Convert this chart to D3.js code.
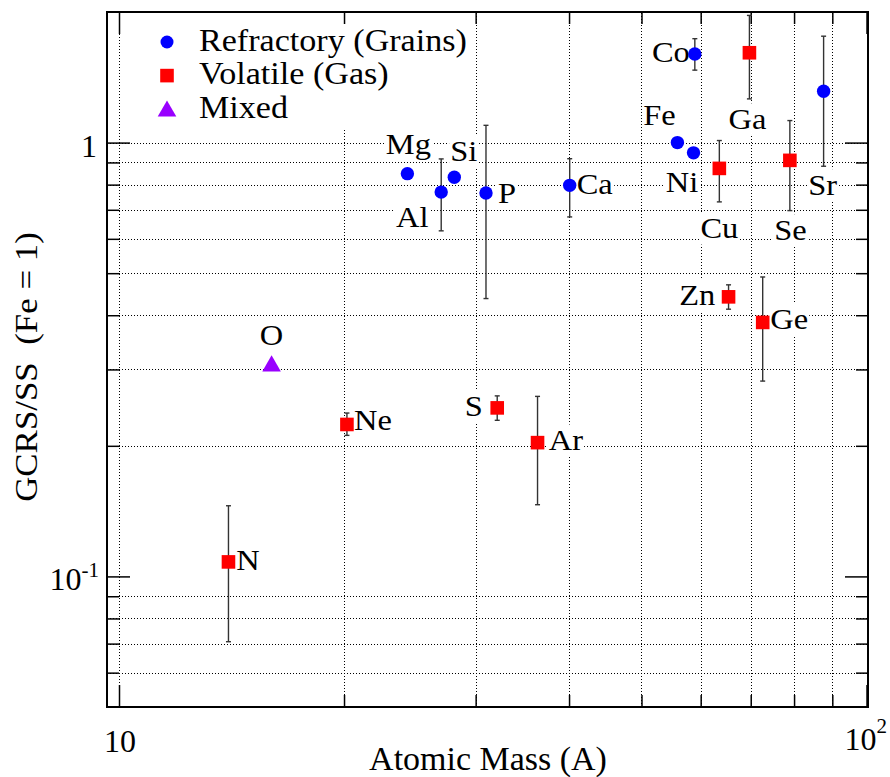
<!DOCTYPE html>
<html>
<head>
<meta charset="utf-8">
<script src="https://cdn.jsdelivr.net/npm/d3@7"></script>
<style>
body { margin: 0; background: #fff; }
</style>
</head>
<body>
<div id="chart"></div>
<script>
// Data
// =================================
var refractoryNames = ["Mg", "Al", "Si", "P", "Ca", "Fe", "Ni", "Co", "Sr"];
var refractoryMass = [24.31, 26.98, 28.09, 30.97, 40.08, 55.85, 58.69, 58.93, 87.62];
var refractoryRatio = [0.848, 0.769, 0.832, 0.765, 0.797, 1.0, 0.947, 1.60, 1.313];
var refractoryLow = [null, 0.626, null, 0.437, 0.674, null, null, 1.469, 0.882];
var refractoryHigh = [null, 0.917, null, 1.096, 0.918, null, null, 1.736, 1.759];

var volatileNames = ["N", "Ne", "S", "Ar", "Cu", "Zn", "Ga", "Ge", "Se"];
var volatileMass = [14.01, 20.18, 32.06, 36.3, 63.55, 65.38, 69.72, 72.63, 78.97];
var volatileRatio = [0.108, 0.224, 0.2446, 0.2034, 0.872, 0.441, 1.611, 0.385, 0.910];
var volatileLow = [0.0707, 0.2114, 0.229, 0.1463, 0.730, 0.413, 1.261, 0.282, 0.697];
var volatileHigh = [0.1455, 0.238, 0.2607, 0.260, 1.011, 0.470, 1.964, 0.490, 1.124];

var mixedNames = ["O"];
var mixedMass = [16.0];
var mixedRatio = [0.307];

var legendLabels = ["Refractory (Grains)", "Volatile (Gas)", "Mixed"];
var xMajorTicks = [10, 100];
var xMinorTicks = [20, 30, 40, 50, 60, 70, 80, 90];
var yMajorTicks = [0.1, 1];
var yMinorTicks = [0.06, 0.07, 0.08, 0.09, 0.2, 0.3, 0.4, 0.5, 0.6, 0.7, 0.8, 0.9];

var FONT = "'Liberation Serif'";

// Step 1: Set up our chart
//= ================================
var svgWidth = 890;
var svgHeight = 777;

var margin = {
    top: 12,
    right: 22,
    bottom: 70,
    left: 107
};

var width = svgWidth - margin.left - margin.right;
var height = svgHeight - margin.top - margin.bottom;

var svg = d3.select("#chart")
    .append("svg")
    .attr("width", svgWidth)
    .attr("height", svgHeight);

var chartGroup = svg.append("g")
    .attr("transform", `translate(${margin.left}, ${margin.top})`);

// Step 2: Scales (log / log)
// ==============================
var xLogScale = d3.scaleLog()
    .domain([9.637, 100.46])
    .range([0, width]);

var yLogScale = d3.scaleLog()
    .domain([0.05, 2])
    .range([height, 0]);

// Step 3: Dotted grid
// ==============================
function styleGrid(g) {
    g.select(".domain").remove();
    g.selectAll("line")
        .attr("stroke", "#000")
        .attr("stroke-width", 1)
        .attr("shape-rendering", "crispEdges")
        .attr("stroke-dasharray", "1,2");
}

chartGroup.append("g")
    .attr("transform", `translate(0, ${height})`)
    .call(d3.axisBottom(xLogScale).tickValues([10].concat(xMinorTicks)).tickSize(-height).tickFormat(""))
    .call(styleGrid);

chartGroup.append("g")
    .call(d3.axisLeft(yLogScale).tickValues(yMinorTicks.concat([1])).tickSize(-width).tickFormat(""))
    .call(styleGrid);

// Step 4: Ticks on all four sides
// ==============================
function styleTicks(g) {
    g.select(".domain").remove();
    g.selectAll("line").attr("stroke", "#000").attr("stroke-width", 1.5);
}

[[xMajorTicks, 22], [xMinorTicks, 12]].forEach(function (t) {
    chartGroup.append("g")
        .attr("transform", `translate(0, ${height})`)
        .call(d3.axisBottom(xLogScale).tickValues(t[0]).tickSize(-t[1]).tickFormat(""))
        .call(styleTicks);
    chartGroup.append("g")
        .call(d3.axisTop(xLogScale).tickValues(t[0]).tickSize(-t[1]).tickFormat(""))
        .call(styleTicks);
});

[[yMajorTicks, 23], [yMinorTicks, 12]].forEach(function (t) {
    chartGroup.append("g")
        .call(d3.axisLeft(yLogScale).tickValues(t[0]).tickSize(-t[1]).tickFormat(""))
        .call(styleTicks);
    chartGroup.append("g")
        .attr("transform", `translate(${width}, 0)`)
        .call(d3.axisRight(yLogScale).tickValues(t[0]).tickSize(-t[1]).tickFormat(""))
        .call(styleTicks);
});

// tick labels
chartGroup.append("text")
    .attr("x", -10)
    .attr("y", yLogScale(1) + 14)
    .attr("text-anchor", "end")
    .attr("font-size", 32)
    .style("font-family", FONT)
    .text("1");

var tenMinus = chartGroup.append("text")
    .attr("x", -8)
    .attr("y", yLogScale(0.1) + 14)
    .attr("text-anchor", "end")
    .attr("font-size", 32)
    .style("font-family", FONT)
    .text("10");
tenMinus.append("tspan").attr("dy", -13).attr("font-size", 21).text("-1");

chartGroup.append("text")
    .attr("x", xLogScale(10) + 1)
    .attr("y", height + 45)
    .attr("text-anchor", "middle")
    .attr("font-size", 32)
    .style("font-family", FONT)
    .text("10");

var tenTwo = chartGroup.append("text")
    .attr("x", xLogScale(100) - 22)
    .attr("y", height + 43)
    .attr("text-anchor", "start")
    .attr("font-size", 32)
    .style("font-family", FONT)
    .text("10");
tenTwo.append("tspan").attr("dy", -17).attr("font-size", 21).text("2");

// axis titles
svg.append("text")
    .attr("transform", `translate(488, 770) scale(1.03, 1)`)
    .attr("text-anchor", "middle")
    .attr("font-size", 33)
    .style("font-family", FONT)
    .text("Atomic Mass (A)");

svg.append("text")
    .attr("transform", `translate(37, 367) rotate(-90) scale(1.09, 1)`)
    .attr("text-anchor", "middle")
    .attr("font-size", 32)
    .style("font-family", FONT)
    .style("white-space", "pre")
    .text("GCRS/SS  (Fe = 1)");

// Step 5: Element labels (white boxes hide the grid behind them)
// ==============================
var labelOffset = {
    Mg: [1, -20], Al: [-29, 35], Si: [9.5, -16], P: [21, 10], Ca: [25, 8.5],
    Fe: [-18, -18], Ni: [-11.5, 39.5], Co: [-24, 8], Sr: [-1, 103.3],
    N: [19.5, 7.6], Ne: [26, 5.7], S: [-23.4, 8], Ar: [28.3, 7.3],
    Cu: [0, 69.6], Zn: [-31.3, 8], Ga: [-2, 76], Ge: [26.5, 6.3], Se: [0.5, 79.3],
    O: [0, -20]
};

var labelLayer = chartGroup.append("g");

function addLabel(name, mass, ratio) {
    var off = labelOffset[name];
    var g = labelLayer.append("g")
        .attr("transform", `translate(${xLogScale(mass) + off[0]}, ${yLogScale(ratio) + off[1]}) scale(1.12, 1)`);
    var t = g.append("text")
        .attr("text-anchor", "middle")
        .attr("font-size", 29)
        .style("font-family", FONT)
        .text(name);
    var bb = t.node().getBBox();
    g.insert("rect", "text")
        .attr("x", bb.x - 1)
        .attr("y", bb.y)
        .attr("width", bb.width + 2)
        .attr("height", bb.height)
        .attr("fill", "#fff");
}

refractoryNames.forEach((n, i) => addLabel(n, refractoryMass[i], refractoryRatio[i]));
volatileNames.forEach((n, i) => addLabel(n, volatileMass[i], volatileRatio[i]));
mixedNames.forEach((n, i) => addLabel(n, mixedMass[i], mixedRatio[i]));

// Step 6: Error bars
// ==============================
var errGroup = chartGroup.append("g")
    .attr("stroke", "#333")
    .attr("stroke-width", 1.4);

function addError(mass, low, high) {
    if (low === null) return;
    var cx = xLogScale(mass);
    errGroup.append("line")
        .attr("x1", cx).attr("x2", cx)
        .attr("y1", yLogScale(low)).attr("y2", yLogScale(high));
    [low, high].forEach(function (v) {
        errGroup.append("line")
            .attr("x1", cx - 2.5).attr("x2", cx + 2.5)
            .attr("y1", yLogScale(v)).attr("y2", yLogScale(v));
    });
}

refractoryMass.forEach((m, i) => addError(m, refractoryLow[i], refractoryHigh[i]));
volatileMass.forEach((m, i) => addError(m, volatileLow[i], volatileHigh[i]));

// Step 7: Markers
// ==============================
chartGroup.append("g").selectAll("circle")
    .data(refractoryMass)
    .enter()
    .append("circle")
    .attr("cx", d => xLogScale(d))
    .attr("cy", (d, i) => yLogScale(refractoryRatio[i]))
    .attr("r", 6.7)
    .attr("fill", "#0000ff");

var sq = 13.6;
chartGroup.append("g").selectAll("rect")
    .data(volatileMass)
    .enter()
    .append("rect")
    .attr("x", d => xLogScale(d) - sq / 2)
    .attr("y", (d, i) => yLogScale(volatileRatio[i]) - sq / 2)
    .attr("width", sq)
    .attr("height", sq)
    .attr("fill", "#ff0000");

var triangle = d3.symbol().type(d3.symbolTriangle).size(150);
chartGroup.append("g").selectAll("path")
    .data(mixedMass)
    .enter()
    .append("path")
    .attr("d", triangle)
    .attr("transform", (d, i) => `translate(${xLogScale(d)}, ${yLogScale(mixedRatio[i]) + 1})`)
    .attr("fill", "#9900ff");

// Step 8: Legend (white box, no border)
// ==============================
var legend = svg.append("g");
legend.append("rect")
    .attr("x", 125).attr("y", 25)
    .attr("width", 347).attr("height", 105)
    .attr("fill", "#fff");

legendLabels.forEach(function (label, i) {
    var cy = 42 + i * 33.6;
    if (i === 0) {
        legend.append("circle").attr("cx", 167).attr("cy", cy).attr("r", 6.5).attr("fill", "#0000ff");
    } else if (i === 1) {
        legend.append("rect").attr("x", 167 - sq / 2).attr("y", cy - sq / 2)
            .attr("width", sq).attr("height", sq).attr("fill", "#ff0000");
    } else {
        legend.append("path").attr("d", triangle)
            .attr("transform", `translate(167, ${cy + 2})`).attr("fill", "#9900ff");
    }
    legend.append("text")
        .attr("transform", `translate(199, ${cy + 8.5}) scale(1.1, 1)`)
        .attr("font-size", 31)
        .style("font-family", FONT)
        .text(label);
});

// Step 9: Frame on top
// ==============================
chartGroup.append("rect")
    .attr("x", 0).attr("y", 0)
    .attr("width", width).attr("height", height)
    .attr("fill", "none")
    .attr("stroke", "#000")
    .attr("stroke-width", 2);
</script>
</body>
</html>
